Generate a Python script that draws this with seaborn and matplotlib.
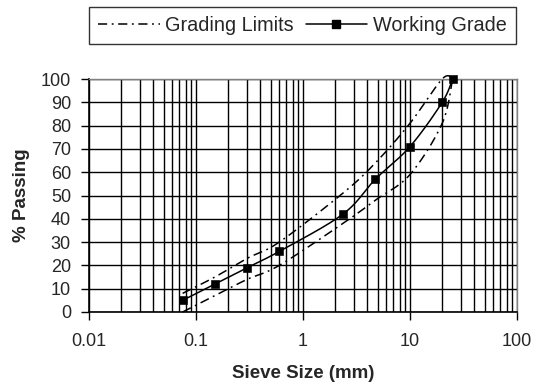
import numpy as np
import pandas as pd
import matplotlib
matplotlib.use("Agg")
import matplotlib.pyplot as plt
from matplotlib.lines import Line2D
from matplotlib.ticker import LogLocator, FixedLocator, NullFormatter
import seaborn as sns

# ---- data ----
sieve_mm = [0.075, 0.15, 0.3, 0.6, 2.36, 4.75, 10, 20, 25]
upper_limit = [8, 15, 23, 30, 51, 64, 81, 100, 100]
lower_limit = [0, 7, 14, 20, 38, 48, 59, 81, 100]
working_grade = [5, 12, 19, 26, 42, 57, 71, 90, 100]
x_ticks = [0.01, 0.1, 1, 10, 100]
x_tick_labels = ["0.01", "0.1", "1", "10", "100"]
y_ticks = list(range(0, 101, 10))

sns.set_theme(style="white")
plt.rcParams["font.family"] = ["Liberation Sans", "DejaVu Sans"]

W, H = 537, 389
fig = plt.figure(figsize=(W / 100, H / 100), dpi=100)
L, R, T, B = 89, 517, 79, 312
ax = fig.add_axes([L / W, 1 - B / H, (R - L) / W, (B - T) / H])
ax.set_xscale("log")
ax.set_xlim(0.01, 100)
ax.set_ylim(0, 100)


def excel_smooth(ax, xs, ys, n=40):
    pts = ax.transData.transform(np.column_stack([xs, ys]))
    P = np.vstack([pts[0], pts, pts[-1]])
    segs = []
    t = np.linspace(0, 1, n)[:, None]
    for i in range(len(pts) - 1):
        p0, p1, p2, p3 = P[i], P[i + 1], P[i + 2], P[i + 3]
        c1 = p1 + (p2 - p0) / 6.0
        c2 = p2 - (p3 - p1) / 6.0
        seg = (1 - t) ** 3 * p1 + 3 * (1 - t) ** 2 * t * c1 + 3 * (1 - t) * t ** 2 * c2 + t ** 3 * p2
        segs.append(seg if i == 0 else seg[1:])
    d = ax.transData.inverted().transform(np.vstack(segs))
    return d[:, 0], d[:, 1]


# grid
ax.xaxis.set_major_locator(FixedLocator(x_ticks))
ax.xaxis.set_minor_locator(LogLocator(base=10, subs=np.arange(2, 10)))
ax.xaxis.set_minor_formatter(NullFormatter())
ax.set_xticklabels(x_tick_labels)
ax.set_yticks(y_ticks)
ax.grid(True, which="major", axis="both", color="black", lw=1.0)
ax.grid(True, which="minor", axis="x", color="black", lw=1.0)
ax.set_axisbelow(True)

dash = (0, (6, 3, 1.2, 3))
for series in (upper_limit, lower_limit):
    sx, sy = excel_smooth(ax, sieve_mm, series)
    df = pd.DataFrame({"x": sx, "y": sy})
    sns.lineplot(data=df, x="x", y="y", ax=ax, sort=False, estimator=None,
                 color="black", lw=1.1, linestyle=dash, clip_on=False)

wx, wy = excel_smooth(ax, sieve_mm, working_grade)
sns.lineplot(data=pd.DataFrame({"x": wx, "y": wy}), x="x", y="y", ax=ax,
             sort=False, estimator=None, color="black", lw=1.1, clip_on=False)
sns.scatterplot(data=pd.DataFrame({"x": sieve_mm, "y": working_grade}), x="x", y="y",
                ax=ax, marker="s", s=30, color="black", edgecolor="black", zorder=5,
                clip_on=False)

ax.set_xlim(0.01, 100)
ax.set_ylim(0, 100)

for s in ("top", "right"):
    ax.spines[s].set_color("#808080")
    ax.spines[s].set_linewidth(1.0)
for s in ("left", "bottom"):
    ax.spines[s].set_color("black")
    ax.spines[s].set_linewidth(1.2)

ax.tick_params(axis="both", which="major", direction="out", length=6, width=1.0,
               color="black", labelsize=13, pad=7)
ax.tick_params(axis="x", which="major", pad=9)
ax.tick_params(axis="x", which="minor", length=0)
ax.tick_params(bottom=True, left=True)

ax.set_xlabel("Sieve Size (mm)", fontsize=13.5, fontweight="bold", labelpad=11)
ax.set_ylabel("% Passing", fontsize=13.5, fontweight="bold", labelpad=8)

handles = [
    Line2D([], [], color="black", lw=1.1, linestyle=dash),
    Line2D([], [], color="black", lw=1.1, marker="s", markersize=5.5),
]
leg = fig.legend(handles, ["Grading Limits", "Working Grade"], ncol=2,
                 loc="upper left", bbox_to_anchor=(89 / W, 1 - 44 / H, (516 - 89) / W, 37 / H),
                 mode="expand", borderaxespad=0, fontsize=14.3, frameon=True,
                 fancybox=False, handlelength=3.1, handletextpad=0.3,
                 columnspacing=0.9, borderpad=0.45)
leg.get_frame().set_edgecolor("black")
leg.get_frame().set_linewidth(1.0)

fig.savefig("out.png", dpi=100)
